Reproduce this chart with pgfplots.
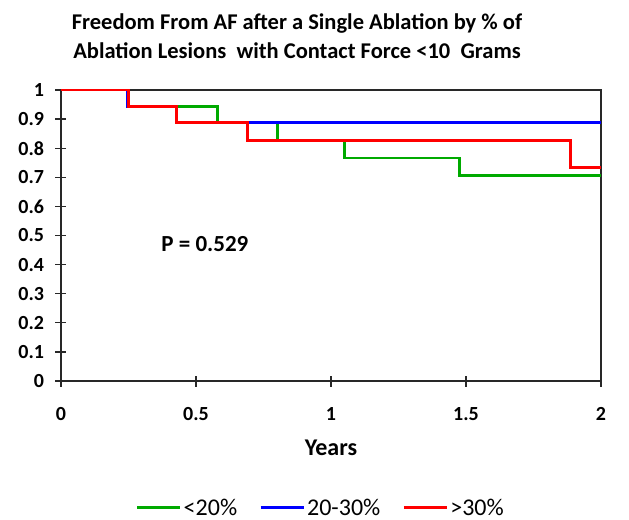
\documentclass[border=0pt]{standalone}
\usepackage{pgfplots}
\pgfplotsset{compat=1.18}
\usepackage{fontspec}
\setmainfont{Carlito}
\definecolor{kmgreen}{RGB}{0,170,0}
\definecolor{kmblue}{RGB}{0,0,255}
\definecolor{kmred}{RGB}{255,0,0}
\definecolor{axgray}{RGB}{40,40,40}
\begin{document}
\begin{tikzpicture}
\path[use as bounding box] (-61bp,-139bp) rectangle (568bp,381bp);
\begin{axis}[
  scale only axis,
  width=540bp, height=291bp,
  xmin=0, xmax=2, ymin=0, ymax=1,
  xtick={0,0.5,1,1.5,2},
  xticklabels={0,0.5,1,1.5,2},
  ytick={0,0.1,...,1},
  yticklabels={0,0.1,0.2,0.3,0.4,0.5,0.6,0.7,0.8,0.9,1},
  tick pos=left,
  tick align=center,
  major tick length=11bp,
  tick style={axgray, line width=1.2bp},
  axis line style={axgray, line width=1.6bp},
  ticklabel style={font=\fontsize{20bp}{24bp}\selectfont\bfseries},
  yticklabel style={xshift=-8bp},
  xticklabel style={yshift=-17bp},
  xlabel={Years},
  xlabel style={font=\fontsize{24bp}{28bp}\selectfont\bfseries,
    at={(axis description cs:0.5,-0.2302)}, anchor=center},
  legend style={at={(0.481,-0.4364)}, anchor=center, draw=none, legend columns=3,
    font=\fontsize{24bp}{28bp}\selectfont,
    /tikz/every even column/.append style={column sep=20bp}},
  legend image code/.code={\draw[#1, line width=3bp] (0bp,0bp) -- (43bp,0bp);},
  clip=false,
]
\addplot[kmgreen, line width=2.6bp, const plot] coordinates {
  (0,1) (0.248,0.943) (0.58,0.888) (0.802,0.826) (1.049,0.767) (1.475,0.706) (2,0.706)};
\addlegendentry{<20\%}
\addplot[kmblue, line width=2.6bp, const plot] coordinates {
  (0,1) (0.245,0.943) (0.428,0.888) (2,0.888)};
\addlegendentry{20-30\%}
\addplot[kmred, line width=2.6bp, const plot] coordinates {
  (0,1) (0.250,0.943) (0.428,0.888) (0.690,0.826) (1.888,0.734) (2,0.734)};
\addlegendentry{>30\%}
\node[font=\fontsize{23bp}{27bp}\selectfont\bfseries] at (axis cs:0.533,0.471) {P = 0.529};
\end{axis}
\node[font=\fontsize{22.5bp}{29bp}\selectfont\bfseries, align=center] at (236bp,345bp)
  {Freedom From AF after a Single Ablation by \% of\\Ablation Lesions\ \ with Contact\ Force <10\ \ Grams};
\end{tikzpicture}
\end{document}
